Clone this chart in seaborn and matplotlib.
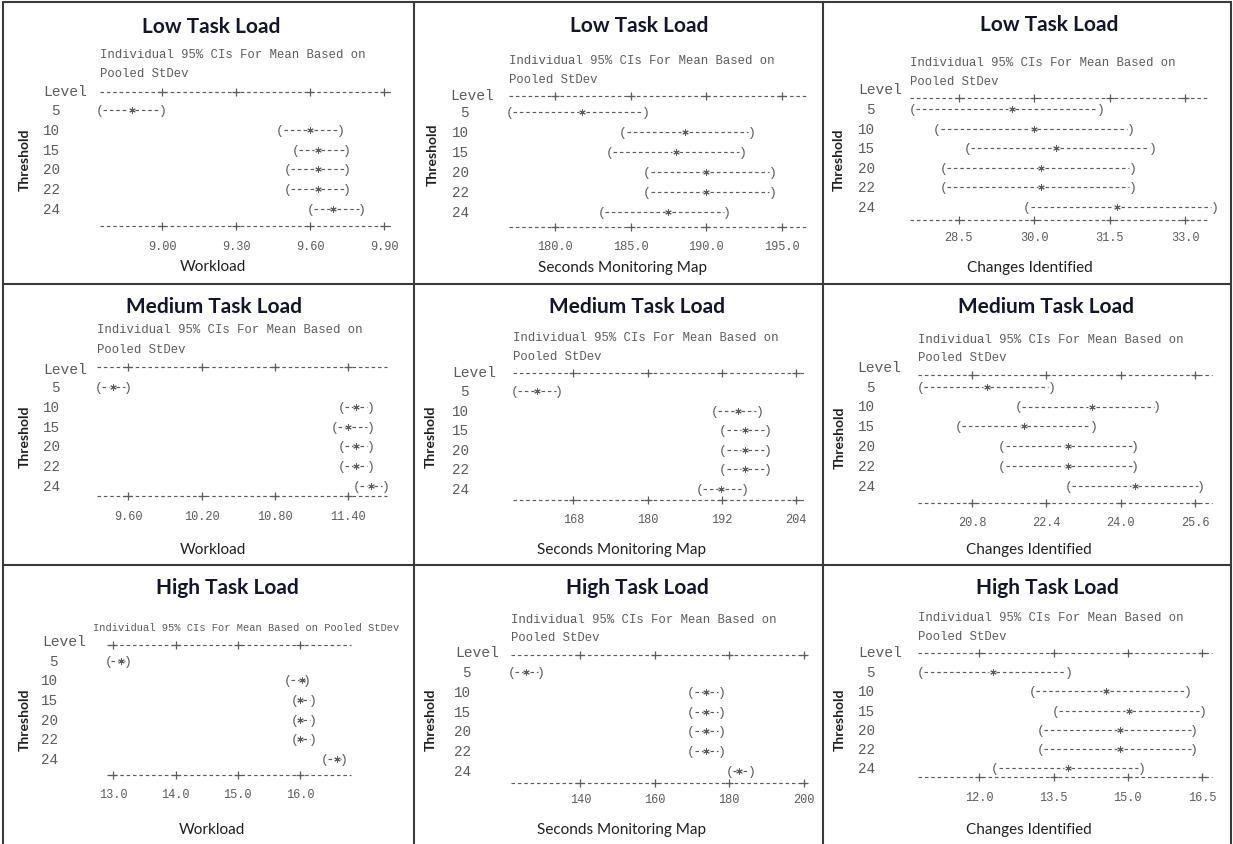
import numpy as np
import pandas as pd
import matplotlib
matplotlib.use("Agg")
import matplotlib.pyplot as plt
import matplotlib.transforms as mtransforms
from matplotlib.lines import Line2D
import seaborn as sns

# ---------------------------------------------------------------- data
thresholds = ["5", "10", "15", "20", "22", "24"]
load_titles = ["Low Task Load", "Medium Task Load", "High Task Load"]
measures = ["Workload", "Seconds Monitoring Map", "Changes Identified"]
ci_caption = "Individual 95% CIs For Mean Based on Pooled StDev"

# Workload
workload_low_lower = [8.746, 9.479, 9.540, 9.510, 9.510, 9.601]
workload_low_mean = [8.875, 9.601, 9.631, 9.631, 9.631, 9.694]
workload_low_upper = [9.004, 9.724, 9.751, 9.751, 9.751, 9.812]
workload_low_ticks = [9.00, 9.30, 9.60, 9.90]
workload_low_ticklabels = ["9.00", "9.30", "9.60", "9.90"]

workload_med_lower = [9.355, 11.346, 11.286, 11.346, 11.346, 11.468]
workload_med_mean = [9.472, 11.463, 11.400, 11.463, 11.463, 11.583]
workload_med_upper = [9.600, 11.583, 11.583, 11.583, 11.583, 11.706]
workload_med_ticks = [9.60, 10.20, 10.80, 11.40]
workload_med_ticklabels = ["9.60", "10.20", "10.80", "11.40"]

workload_high_lower = [12.92, 15.81, 15.91, 15.91, 15.91, 16.40]
workload_high_mean = [13.12, 16.03, 16.00, 16.00, 16.00, 16.59]
workload_high_upper = [13.24, 16.11, 16.21, 16.21, 16.21, 16.71]
workload_high_ticks = [13.0, 14.0, 15.0, 16.0]
workload_high_ticklabels = ["13.0", "14.0", "15.0", "16.0"]

# Seconds monitoring map
seconds_low_lower = [177.0, 184.5, 183.6, 186.1, 186.1, 183.1]
seconds_low_mean = [181.8, 188.6, 188.0, 190.0, 190.0, 187.5]
seconds_low_upper = [186.0, 193.0, 192.4, 194.4, 194.4, 191.4]
seconds_low_ticks = [180.0, 185.0, 190.0, 195.0]
seconds_low_ticklabels = ["180.0", "185.0", "190.0", "195.0"]

seconds_med_lower = [158.5, 190.9, 192.2, 192.2, 192.2, 188.4]
seconds_med_mean = [162.2, 194.6, 195.7, 195.7, 195.7, 191.9]
seconds_med_upper = [165.7, 198.1, 199.4, 199.4, 199.4, 195.7]
seconds_med_ticks = [168, 180, 192, 204]
seconds_med_ticklabels = ["168", "180", "192", "204"]

seconds_high_lower = [121.6, 169.8, 169.8, 169.8, 169.8, 180.1]
seconds_high_mean = [125.5, 173.8, 173.8, 173.8, 173.8, 182.7]
seconds_high_upper = [129.5, 177.9, 177.9, 177.9, 177.9, 186.1]
seconds_high_ticks = [140, 160, 180, 200]
seconds_high_ticklabels = ["140", "160", "180", "200"]

# Changes identified
changes_low_lower = [27.59, 28.07, 28.67, 28.20, 28.20, 29.86]
changes_low_mean = [29.55, 29.99, 30.44, 30.14, 30.14, 31.65]
changes_low_upper = [31.32, 31.91, 32.36, 31.95, 31.95, 33.59]
changes_low_ticks = [28.5, 30.0, 31.5, 33.0]
changes_low_ticklabels = ["28.5", "30.0", "31.5", "33.0"]

changes_med_lower = [19.70, 21.80, 20.51, 21.45, 21.45, 22.88]
changes_med_mean = [21.12, 23.38, 21.91, 22.86, 22.86, 24.30]
changes_med_upper = [22.52, 24.78, 23.42, 24.31, 24.31, 25.73]
changes_med_ticks = [20.8, 22.4, 24.0, 25.6]
changes_med_ticklabels = ["20.8", "22.4", "24.0", "25.6"]

changes_high_lower = [10.82, 13.08, 13.54, 13.24, 13.24, 12.32]
changes_high_mean = [12.27, 14.56, 15.02, 14.85, 14.85, 13.79]
changes_high_upper = [13.81, 16.21, 16.51, 16.34, 16.34, 15.28]
changes_high_ticks = [12.0, 13.5, 15.0, 16.5]
changes_high_ticklabels = ["12.0", "13.5", "15.0", "16.5"]

# ---------------------------------------------------------------- style
W, H = 1233, 845
sns.set_theme(style="white")
plt.rcParams["font.family"] = ["Liberation Mono", "DejaVu Sans Mono"]
MONO = "Liberation Mono"
SANS = "Lato"
GRAY = "#5c5c5c"
DARK = "#15152a"


def fx(px):
    return px / W


def fy(py):
    return 1 - py / H


fig = plt.figure(figsize=(W / 100, H / 100), dpi=100)
fig.patch.set_facecolor("white")

# panel layout in pixel units
layouts = [
    # row 0 : low task load
    dict(ax=(100, 393), xlim=(8.747, 9.937), top=93.3, bot=226.7, r5=111, r24=210,
         level=(87, 91.7), num_x=60, sub_x=100, sub_y=[55, 74], sub_fs=8.8,
         tick_y=246.7, title=(211, 26.7), xlab=(213, 267), ylab=(25, 160)),
    dict(ax=(508.7, 806), xlim=(176.94, 196.61), top=97.3, bot=227.7, r5=113.3, r24=213.3,
         level=(494, 96), num_x=469, sub_x=509, sub_y=[61, 80], sub_fs=8.8,
         tick_y=246.7, title=(639, 26), xlab=(623, 268), ylab=(433, 155)),
    dict(ax=(910.3, 1208.7), xlim=(27.539, 33.465), top=99, bot=220.7, r5=110, r24=208,
         level=(902, 90), num_x=875, sub_x=910, sub_y=[63, 82], sub_fs=8.8,
         tick_y=238, title=(1049, 25), xlab=(1030, 268), ylab=(839, 160)),
    # row 1 : medium task load
    dict(ax=(96.7, 386.7), xlim=(9.341, 11.714), top=368.3, bot=496.7, r5=388.3, r24=486.7,
         level=(87, 370), num_x=60, sub_x=97, sub_y=[330, 350], sub_fs=8.8,
         tick_y=516.7, title=(214, 307), xlab=(213, 550), ylab=(25, 437)),
    dict(ax=(512.7, 806), xlim=(158.2, 205.62), top=374.3, bot=501, r5=392.3, r24=490,
         level=(496, 373.3), num_x=469, sub_x=513, sub_y=[338, 357], sub_fs=8.8,
         tick_y=520, title=(637, 307), xlab=(621, 550), ylab=(431, 437)),
    dict(ax=(918, 1212), xlim=(19.639, 25.959), top=375.7, bot=504.3, r5=387.7, r24=486.7,
         level=(901, 368.3), num_x=875, sub_x=918, sub_y=[340, 358], sub_fs=8.8,
         tick_y=523.3, title=(1046, 307), xlab=(1029, 550), ylab=(840, 438)),
    # row 2 : high task load
    dict(ax=(106.7, 350.7), xlim=(12.894, 16.815), top=645.7, bot=775.7, r5=661.7, r24=760,
         level=(86, 642.3), num_x=58, sub_x=93.3, sub_y=[628.3], sub_fs=7.5,
         tick_y=795, title=(227, 588), xlab=(212, 830), ylab=(25, 720)),
    dict(ax=(511, 806), xlim=(121.39, 200.62), top=655.7, bot=784.3, r5=673.3, r24=771.7,
         level=(499, 653.3), num_x=471, sub_x=511, sub_y=[620, 638.3], sub_fs=8.8,
         tick_y=800, title=(637, 588), xlab=(621, 830), ylab=(431, 720)),
    dict(ax=(918, 1212), xlim=(10.761, 16.702), top=654.3, bot=778.3, r5=673.3, r24=769,
         level=(902, 653.3), num_x=875, sub_x=918, sub_y=[618.3, 636.7], sub_fs=8.8,
         tick_y=798.3, title=(1047, 588), xlab=(1029, 830), ylab=(840, 720)),
]

series = [
    (workload_low_lower, workload_low_mean, workload_low_upper, workload_low_ticks, workload_low_ticklabels),
    (seconds_low_lower, seconds_low_mean, seconds_low_upper, seconds_low_ticks, seconds_low_ticklabels),
    (changes_low_lower, changes_low_mean, changes_low_upper, changes_low_ticks, changes_low_ticklabels),
    (workload_med_lower, workload_med_mean, workload_med_upper, workload_med_ticks, workload_med_ticklabels),
    (seconds_med_lower, seconds_med_mean, seconds_med_upper, seconds_med_ticks, seconds_med_ticklabels),
    (changes_med_lower, changes_med_mean, changes_med_upper, changes_med_ticks, changes_med_ticklabels),
    (workload_high_lower, workload_high_mean, workload_high_upper, workload_high_ticks, workload_high_ticklabels),
    (seconds_high_lower, seconds_high_mean, seconds_high_upper, seconds_high_ticks, seconds_high_ticklabels),
    (changes_high_lower, changes_high_mean, changes_high_upper, changes_high_ticks, changes_high_ticklabels),
]

DASH = (0, (3.0, 2.4))

for i, (lay, (lower, mean, upper, ticks, ticklabels)) in enumerate(zip(layouts, series)):
    row_i, col_i = divmod(i, 3)
    x0, x1 = lay["ax"]
    ax = fig.add_axes([fx(x0), fy(lay["bot"]), (x1 - x0) / W, (lay["bot"] - lay["top"]) / H])
    ax.set_axis_off()
    ax.set_xlim(*lay["xlim"])
    step = (lay["r24"] - lay["r5"]) / 5
    y_top = 1 + (lay["top"] - lay["r5"]) / step
    y_bot = 1 + (lay["bot"] - lay["r5"]) / step
    ax.set_ylim(y_bot, y_top)

    df = pd.DataFrame({
        "Threshold": thresholds,
        "row": np.arange(1, len(thresholds) + 1),
        "lower": lower, "mean": mean, "upper": upper,
    })

    # scale rulers above and below the intervals
    for yv in (y_top, y_bot):
        ax.hlines(yv, lay["xlim"][0], lay["xlim"][1], colors=GRAY, linewidth=0.85,
                  linestyles=DASH, clip_on=False)
        ax.plot(ticks, [yv] * len(ticks), linestyle="none", marker="+", ms=5.5, mew=0.9,
                color=GRAY, clip_on=False)

    # interval bodies, brackets and means
    span = lay["xlim"][1] - lay["xlim"][0]
    gap = 0.012 * span
    for _, r in df.iterrows():
        ax.hlines(r["row"], r["lower"] + gap, r["mean"] - gap, colors=GRAY, linewidth=0.85,
                  linestyles=DASH, clip_on=False)
        ax.hlines(r["row"], r["mean"] + gap, r["upper"] - gap, colors=GRAY, linewidth=0.85,
                  linestyles=DASH, clip_on=False)
        ax.text(r["lower"], r["row"], "(", ha="center", va="center", fontsize=9.5,
                family=MONO, color=GRAY)
        ax.text(r["upper"], r["row"], ")", ha="center", va="center", fontsize=9.5,
                family=MONO, color=GRAY)
    sns.scatterplot(data=df, x="mean", y="row", marker=(6, 2, 0), s=16, color=GRAY,
                    linewidth=0.75, ax=ax, legend=False, clip_on=False, zorder=3)
    ax.set_axis_off()

    # x tick labels under the lower ruler
    tr_x = mtransforms.blended_transform_factory(ax.transData, fig.transFigure)
    for t, lbl in zip(ticks, ticklabels):
        ax.text(t, fy(lay["tick_y"]), lbl, transform=tr_x, ha="center", va="center",
                fontsize=8.6, family=MONO, color=GRAY)

    # level column
    tr_y = mtransforms.blended_transform_factory(fig.transFigure, ax.transData)
    for k, lbl in zip(df["row"], df["Threshold"]):
        ax.text(fx(lay["num_x"]), k, lbl, transform=tr_y, ha="right", va="center",
                fontsize=10.3, family=MONO, color=GRAY)
    fig.text(fx(lay["level"][0]), fy(lay["level"][1]), "Level", ha="right", va="center",
             fontsize=10.5, family=MONO, color=GRAY)

    # caption above the rulers
    if len(lay["sub_y"]) == 1:
        caption_lines = [ci_caption]
    else:
        caption_lines = ["Individual 95% CIs For Mean Based on", "Pooled StDev"]
    for line, yy in zip(caption_lines, lay["sub_y"]):
        fig.text(fx(lay["sub_x"]), fy(yy), line, ha="left", va="center",
                 fontsize=lay["sub_fs"], family=MONO, color=GRAY)

    fig.text(fx(lay["title"][0]), fy(lay["title"][1]), load_titles[row_i], ha="center",
             va="center", fontsize=15, fontweight="bold", family=SANS, color=DARK)
    fig.text(fx(lay["xlab"][0]), fy(lay["xlab"][1]), measures[col_i], ha="center",
             va="center", fontsize=11, family=SANS, color="#202020")
    fig.text(fx(lay["ylab"][0]), fy(lay["ylab"][1]), "Threshold", ha="center", va="center",
             rotation=90, fontsize=10, fontweight="bold", family=SANS, color="#202020")

# cell borders
BORDER = "#3a3a3a"
for xb in (3, 414, 823, 1231):
    fig.add_artist(Line2D([fx(xb), fx(xb)], [fy(3), fy(845)], transform=fig.transFigure,
                          lw=1.5, color=BORDER))
for yb in (3, 285, 566):
    fig.add_artist(Line2D([fx(3), fx(1231)], [fy(yb), fy(yb)], transform=fig.transFigure,
                          lw=1.5, color=BORDER))

fig.savefig("out.png", dpi=100, facecolor="white")
